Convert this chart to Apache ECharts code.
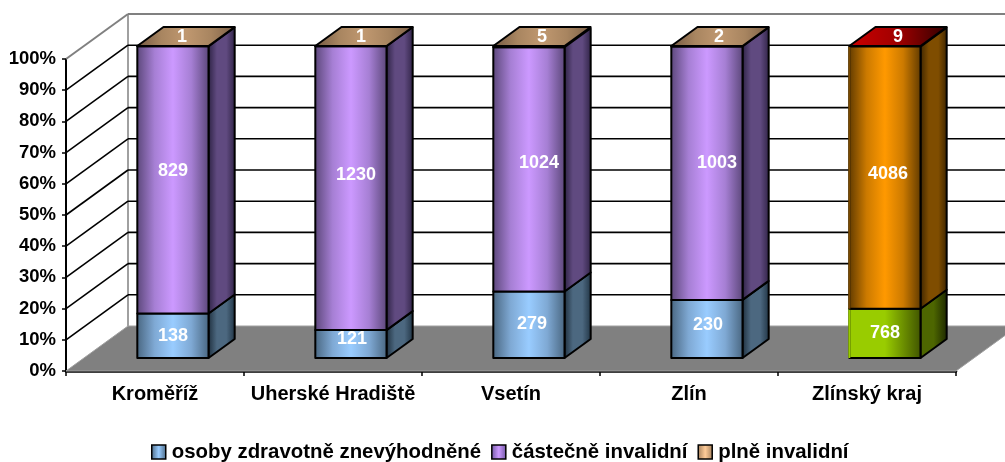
<!DOCTYPE html>
<html><head><meta charset="utf-8">
<style>html,body{margin:0;padding:0;background:#fff}#c{width:1005px;height:462px}</style>
<script src="https://cdn.jsdelivr.net/npm/echarts@6/dist/echarts.min.js"></script>
</head><body><div id="c"></div>
<script>
const categories = ['Kroměříž', 'Uherské Hradiště', 'Vsetín', 'Zlín', 'Zlínský kraj'];
const zdravotneZnevyhodnene = [138, 121, 279, 230, 768];
const castecneInvalidni = [829, 1230, 1024, 1003, 4086];
const plneInvalidni = [1, 1, 5, 2, 9];
const seriesNames = ['osoby zdravotně znevýhodněné', 'částečně invalidní', 'plně invalidní'];
const percentTicks = [0, 10, 20, 30, 40, 50, 60, 70, 80, 90, 100];

const FONT = '"Liberation Sans", Arial, sans-serif';
const DEPTH = [62, -45];          // full floor depth
const BAR_NEAR = 13 / 45;         // bar front plane as a share of depth
const BAR_FAR = 32 / 45;          // bar back plane as a share of depth
const BAR_SHARE = 0.4;            // bar width as a share of the band
// manual label placement tweaks, as in the original hand-placed labels
const labelNudges = [
  [[0, 0], [1, -5], [3, -1], [1, -4], [0, 0]],
  [[0, -9], [5, -13], [10, -6], [10, -10], [3, -4]],
  [[-4, 1], [-3, 1], [0, 1], [-1, 1], [0, 1]]
];

function h(stops) {
  return { type: 'linear', x: 0, y: 0, x2: 1, y2: 0,
    colorStops: stops.map((c, i) => ({ offset: stops.length === 1 ? 0 : i / (stops.length - 1), color: c })) };
}
const blueFront = h(['#48657f', '#7fa9d4', '#99ccff', '#7fa9d4', '#48657f']);
const purpleFront = h(['#5a4678', '#a67fd4', '#cc99ff', '#a67fd4', '#5a4678']);
const orangeFront = h(['#5e3900', '#cc7a00', '#ff9900', '#cc7a00', '#5e3900']);
const tanTop = h(['#735842', '#a88560', '#c09870', '#a88560', '#7a5e46']);
const styles = [
  [blueFront, h(['#1c2c3a', '#4c6880', '#4c6880', '#1f3242']), null],
  [purpleFront, h(['#2a2040', '#604a80', '#604a80', '#2e2244']), null],
  [tanTop, null, tanTop]
];
const lastStyles = [
  [h(['#99cc00', '#99cc00', '#3f5300']), h(['#4d6600', '#4d6600', '#1c2600']), null],
  [orangeFront, h(['#3a2300', '#7f4d00', '#7f4d00', '#3a2300']), null],
  [null, null, h(['#cc0000', '#a00000', '#300000'])]
];
const lastEdges = ['#99cc00', '#7a4a00'];

const seriesValues = [zdravotneZnevyhodnene, castecneInvalidni, plneInvalidni];
const totals = categories.map((_, i) => seriesValues.reduce((s, a) => s + a[i], 0));

function shifted(p, t) { return [p[0] + DEPTH[0] * t, p[1] + DEPTH[1] * t]; }

function wallItem(params, api) {
  const v = api.value(0);
  const cs = params.coordSys;
  const y = api.coord([0, v])[1];
  const left = cs.x, right = cs.x + cs.width;
  const back = shifted([left, y], 1);
  const backR = shifted([right, y], 1);
  const children = [];
  if (v === 0) {
    children.push({ type: 'polygon', shape: { points: [[left, y], back, backR, [right, y]] },
      style: { fill: '#808080', stroke: '#a0a0a0', lineWidth: 1 } });
    const top = shifted([left, cs.y], 1);
    children.push({ type: 'line', shape: { x1: back[0], y1: back[1], x2: top[0], y2: top[1] },
      style: { stroke: '#a0a0a0', lineWidth: 2 } });
  } else {
    const c = v === 100 ? '#808080' : '#000';
    const w = v === 100 ? 2 : 1.6;
    children.push({ type: 'line', shape: { x1: left, y1: y, x2: back[0], y2: back[1] }, style: { stroke: c, lineWidth: w } });
    children.push({ type: 'line', shape: { x1: back[0], y1: back[1], x2: backR[0], y2: backR[1] }, style: { stroke: c, lineWidth: w } });
  }
  return { type: 'group', children };
}

function barRender(si) {
  return function (params, api) {
    const idx = api.value(0);
    const center = api.coord([idx, 0])[0];
    const w = api.size([1, 0])[0] * BAR_SHARE;
    const isLast = idx === categories.length - 1;
    const st = isLast ? lastStyles[si] : styles[si];
    const y0 = api.coord([idx, api.value(1)])[1];
    const y1 = api.coord([idx, api.value(2)])[1];
    const fl = shifted([center - w / 2, y0], BAR_NEAR);
    const fr = shifted([center + w / 2, y0], BAR_NEAR);
    const tl = shifted([center - w / 2, y1], BAR_NEAR);
    const tr = shifted([center + w / 2, y1], BAR_NEAR);
    const d = BAR_FAR - BAR_NEAR;
    const bf = shifted(fr, d), bt = shifted(tr, d), btl = shifted(tl, d);
    const children = [];
    const border = { stroke: '#000', lineWidth: 2, lineJoin: 'round' };
    if (st[1]) {
      children.push({ type: 'polygon', shape: { points: [fr, bf, bt, tr] }, style: Object.assign({ fill: st[1] }, border) });
    }
    if (st[0]) {
      children.push({ type: 'polygon', shape: { points: [fl, fr, tr, tl] }, style: Object.assign({ fill: st[0] }, border) });
      if (isLast && lastEdges[si]) {
        children.push({ type: 'line', shape: { x1: fl[0], y1: fl[1], x2: tl[0], y2: tl[1] }, style: { stroke: lastEdges[si], lineWidth: 2 } });
      }
    }
    let lx = center + DEPTH[0] * BAR_NEAR, ly = (fl[1] + tl[1]) / 2;
    if (st[2]) {
      children.push({ type: 'polygon', shape: { points: [tl, tr, bt, btl] }, style: Object.assign({ fill: st[2] }, border) });
      lx = (tl[0] + bt[0]) / 2;
      ly = (tl[1] + bt[1]) / 2;
    }
    const n = labelNudges[si][idx];
    children.push({ type: 'text', style: { x: lx + n[0], y: ly + n[1], text: String(api.value(3)), fill: '#fff',
      font: 'bold 18px ' + FONT, align: 'center', verticalAlign: 'middle' } });
    return { type: 'group', children };
  };
}

function barData(si) {
  return categories.map((_, i) => {
    let start = 0;
    for (let k = 0; k < si; k++) start += seriesValues[k][i];
    const end = start + seriesValues[si][i];
    return [i, start / totals[i] * 100, end / totals[i] * 100, seriesValues[si][i]];
  });
}

const legendColors = [h(['#48657f', '#99ccff', '#48657f']), h(['#6d55a0', '#cc99ff', '#6d55a0']), h(['#a07d5a', '#ffcc99', '#a07d5a'])];

const chart = echarts.init(document.getElementById('c'), null, { renderer: 'canvas' });
chart.setOption({
  animation: false,
  backgroundColor: '#fff',
  grid: { left: 66, right: 49, top: 59, bottom: 91, containLabel: false },
  legend: {
    left: 151, top: 442, padding: 0, itemWidth: 14, itemHeight: 14, itemGap: 10, selectedMode: false,
    textStyle: { color: '#000', fontFamily: FONT, fontWeight: 'bold', fontSize: 20.4, padding: [0, 0, 0, 1] },
    data: seriesNames.map((n, i) => ({ name: n, icon: 'rect',
      itemStyle: { color: legendColors[i], borderColor: '#000', borderWidth: 1.5 } }))
  },
  xAxis: {
    type: 'category', data: categories,
    axisLine: { lineStyle: { color: '#000', width: 2.5 } },
    axisTick: { show: true, length: 5, lineStyle: { color: '#000', width: 1.5 } },
    axisLabel: { interval: 0, margin: 13, color: '#000', fontFamily: FONT, fontWeight: 'bold', fontSize: 20 },
    splitLine: { show: false }
  },
  yAxis: {
    type: 'value', min: 0, max: 100, interval: 10,
    axisLine: { show: true, lineStyle: { color: '#000', width: 2 } },
    axisTick: { show: true, length: 4, lineStyle: { color: '#000', width: 1.5 } },
    axisLabel: { formatter: '{value}%', margin: 10, color: '#000', fontFamily: FONT, fontWeight: 'bold', fontSize: 18.5, padding: [3, 0, 0, 0] },
    splitLine: { show: false }
  },
  series: [
    { type: 'custom', name: 'walls', silent: true, clip: false, data: percentTicks.map(v => [v]),
      encode: { y: 0 }, renderItem: wallItem, z: 1 }
  ].concat(seriesNames.map((n, si) => ({
    type: 'custom', name: n, silent: true, clip: false, z: 2 + si,
    data: barData(si), encode: { x: 0, y: [1, 2] }, renderItem: barRender(si)
  })))
});
</script></body></html>
